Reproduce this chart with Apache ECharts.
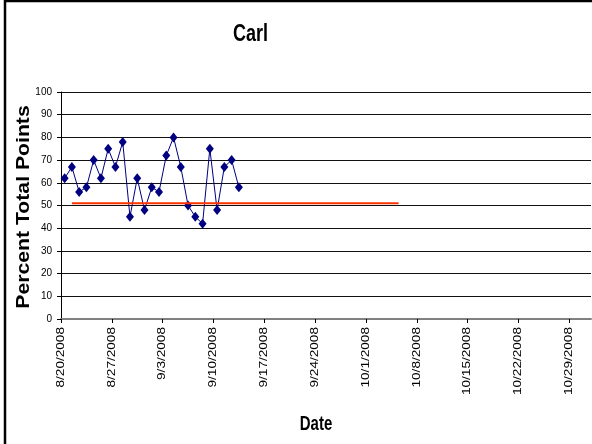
<!DOCTYPE html>
<html>
<head>
<meta charset="utf-8">
<script src="https://cdn.jsdelivr.net/npm/echarts@6/dist/echarts.min.js"></script>
<style>
  html, body { margin: 0; padding: 0; background: #fff; }
  #chart { width: 592px; height: 444px; }
</style>
</head>
<body>
<div id="chart"></div>
<script>
// Daily scores (percent of total points)
const dates = [
  '8/20/2008', '8/21/2008', '8/22/2008', '8/23/2008', '8/24/2008',
  '8/25/2008', '8/26/2008', '8/27/2008', '8/28/2008', '8/29/2008',
  '8/30/2008', '8/31/2008', '9/1/2008', '9/2/2008', '9/3/2008',
  '9/4/2008', '9/5/2008', '9/6/2008', '9/7/2008', '9/8/2008',
  '9/9/2008', '9/10/2008', '9/11/2008', '9/12/2008', '9/13/2008'
];
const scores = [62, 67, 56, 58, 70, 62, 75, 67, 78, 45, 62, 48, 58, 56, 72, 80, 67, 50, 45, 42, 75, 48, 67, 70, 58];

// Target level line
const targetDates = ['8/21/2008', '10/5/2008'];
const targetValue = 51;

// Weekly date ticks and end of the date axis
const tickLabels = [
  '8/20/2008', '8/27/2008', '9/3/2008', '9/10/2008', '9/17/2008', '9/24/2008',
  '10/1/2008', '10/8/2008', '10/15/2008', '10/22/2008', '10/29/2008'
];
const axisEnd = '11/1/2008';

const FONT = '"Liberation Sans", Arial, sans-serif';

function dayOf(s) {
  const [m, d, y] = s.split('/').map(Number);
  const [m0, d0, y0] = tickLabels[0].split('/').map(Number);
  return Math.round((Date.UTC(y, m - 1, d) - Date.UTC(y0, m0 - 1, d0)) / 86400000);
}

// each day's point sits in the middle of its day slot
const scoreData = dates.map((d, i) => [dayOf(d) + 0.5, scores[i]]);
const targetData = targetDates.map(d => [dayOf(d) + 0.5, targetValue]);
const tickDays = tickLabels.map(dayOf);

const chart = echarts.init(document.getElementById('chart'), null, { renderer: 'canvas' });

const frameAndTitles = [
  {
    type: 'rect',
    shape: { x: 5, y: 1, width: 620, height: 470 },
    style: { fill: 'none', stroke: '#000', lineWidth: 2.5 },
    silent: true
  },
  {
    type: 'text',
    x: 250.5, y: 34,
    scaleY: 1.37,
    style: { text: 'Carl', font: 'bold 18px ' + FONT, fill: '#000', align: 'center', verticalAlign: 'middle' }
  },
  {
    type: 'text',
    x: 24, y: 207,
    rotation: Math.PI / 2,
    scaleX: 1.116,
    style: { text: 'Percent Total Points', font: 'bold 19px ' + FONT, fill: '#000', align: 'center', verticalAlign: 'middle' }
  },
  {
    type: 'text',
    x: 316, y: 425,
    scaleY: 1.3,
    style: { text: 'Date', font: 'bold 15px ' + FONT, fill: '#000', align: 'center', verticalAlign: 'middle' }
  }
];

chart.setOption({
  animation: false,
  backgroundColor: '#fff',
  grid: { left: 61, right: 1, top: 92, bottom: 125, containLabel: false },
  xAxis: {
    type: 'value',
    min: 0,
    max: dayOf(axisEnd),
    axisLine: { show: true, lineStyle: { color: '#808080', width: 2 } },
    splitLine: { show: false },
    axisTick: { show: true, customValues: tickDays, length: 4, lineStyle: { color: '#000', width: 1 } },
    axisLabel: { show: false }
  },
  yAxis: {
    type: 'value',
    min: 0,
    max: 100,
    interval: 10,
    axisLine: { show: true, lineStyle: { color: '#000', width: 1 } },
    axisTick: { show: true, length: 4, lineStyle: { color: '#000' } },
    axisLabel: { margin: 9, fontSize: 10, fontFamily: FONT, color: '#000' },
    splitLine: { show: true, lineStyle: { color: '#111', width: 1 } }
  },
  series: [
    {
      name: 'Score',
      type: 'line',
      data: scoreData,
      symbol: 'diamond',
      symbolSize: [8, 10],
      showSymbol: true,
      itemStyle: { color: '#000080' },
      lineStyle: { color: '#000080', width: 1 },
      z: 3
    },
    {
      name: 'Target',
      type: 'line',
      data: targetData,
      symbol: 'none',
      lineStyle: { color: '#FF3300', width: 2 },
      z: 4
    }
  ],
  graphic: frameAndTitles
});

// Date tick labels: vertical, slightly stretched along their length,
// placed at the x axis ticks through the axis scale
const axisY = chart.convertToPixel({ yAxisIndex: 0 }, 0);
const dateLabels = tickDays.map((day, i) => ({
  type: 'text',
  x: chart.convertToPixel({ xAxisIndex: 0 }, day),
  y: axisY + 8,
  rotation: Math.PI / 2,
  scaleX: 1.36,
  style: { text: tickLabels[i], font: '10px ' + FONT, fill: '#000', align: 'right', verticalAlign: 'middle' }
}));

chart.setOption({ graphic: frameAndTitles.concat(dateLabels) });
</script>
</body>
</html>
